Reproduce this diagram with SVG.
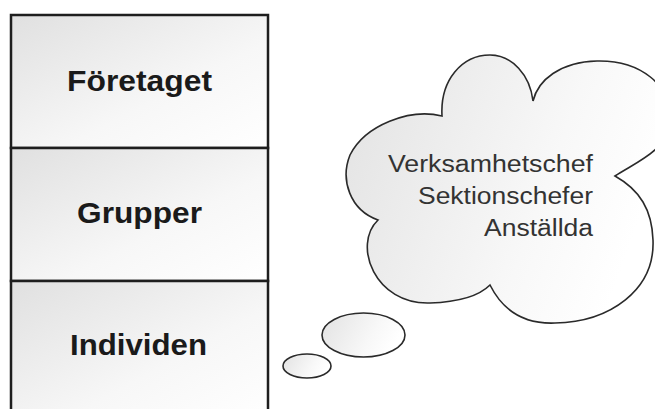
<svg xmlns="http://www.w3.org/2000/svg" width="655" height="409" viewBox="0 0 655 409">
  <defs>
    <linearGradient id="boxFill" x1="0" y1="0" x2="1" y2="1">
      <stop offset="0" stop-color="#e0e0e0"/>
      <stop offset="0.6" stop-color="#f7f7f7"/>
      <stop offset="1" stop-color="#ffffff"/>
    </linearGradient>
    <linearGradient id="cloudFill" x1="0" y1="0" x2="1" y2="0.3">
      <stop offset="0" stop-color="#e2e2e2"/>
      <stop offset="0.7" stop-color="#f8f8f8"/>
      <stop offset="1" stop-color="#ffffff"/>
    </linearGradient>
    <style>
      .box { fill: url(#boxFill); stroke: #1e1e1e; stroke-width: 2.5; }
      .lbl { font-family: "Liberation Sans", Arial, sans-serif; font-weight: bold; font-size: 30px; fill: #1a1a1a; text-anchor: middle; }
      .cloud { fill: url(#cloudFill); stroke: #2a2a2a; stroke-width: 1.6; }
      .ctext { font-family: "Liberation Sans", Arial, sans-serif; font-size: 23px; fill: #333333; text-anchor: end; }
    </style>
  </defs>

  <rect width="655" height="409" fill="#ffffff"/>

  <g id="node-foretaget">
    <rect class="box" x="11" y="15" width="257" height="133"/>
    <text class="lbl" x="139.5" y="90.5" textLength="145" lengthAdjust="spacingAndGlyphs">Företaget</text>
  </g>
  <g id="node-grupper">
    <rect class="box" x="11" y="148" width="257" height="133"/>
    <text class="lbl" x="139.5" y="223" textLength="125" lengthAdjust="spacingAndGlyphs">Grupper</text>
  </g>
  <g id="node-individen">
    <rect class="box" x="11" y="281" width="257" height="140"/>
    <text class="lbl" x="138.5" y="355" textLength="137" lengthAdjust="spacingAndGlyphs">Individen</text>
  </g>

  <g id="node-cloud">
    <path class="cloud" d="M 378,220
      C 352,245 375,305 430,303
      C 460,302 480,295 490,285
      C 505,315 530,324 555,323
      C 610,322 655,290 653,240
      C 652,210 640,190 615,176
      C 640,160 668,150 670,120
      C 672,85 640,60 597,61
      C 560,62 538,80 533,101
      C 530,75 512,55 490,55
      C 462,55 440,80 442,116
      C 410,108 365,125 350,155
      C 340,180 350,210 378,220 Z"/>
    <text class="ctext" x="593" y="171.5" textLength="205" lengthAdjust="spacingAndGlyphs">Verksamhetschef</text>
    <text class="ctext" x="593" y="204" textLength="175" lengthAdjust="spacingAndGlyphs">Sektionschefer</text>
    <text class="ctext" x="593" y="235.5" textLength="109" lengthAdjust="spacingAndGlyphs">Anställda</text>
  </g>

  <g id="connectors">
    <ellipse class="cloud" cx="363.5" cy="335" rx="41.5" ry="22"/>
    <ellipse class="cloud" cx="307" cy="366" rx="24" ry="12"/>
  </g>
</svg>
